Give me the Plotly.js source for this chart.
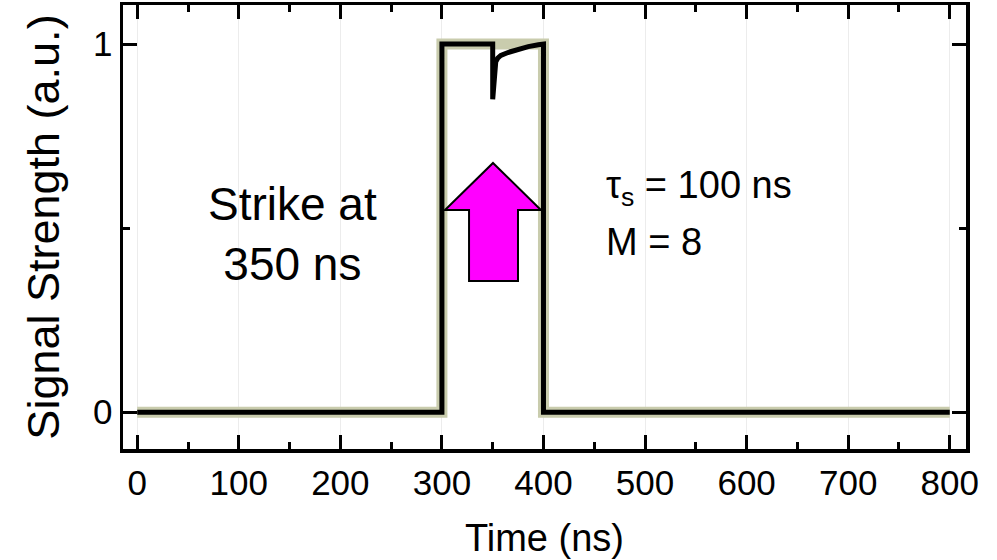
<!DOCTYPE html>
<html>
<head>
<meta charset="utf-8">
<script src="https://cdn.plot.ly/plotly-3.0.1.min.js"></script>
<style>
  html, body { margin: 0; padding: 0; background: #fff; }
  #chart { width: 997px; height: 560px; }
</style>
</head>
<body>
<div id="chart"></div>
<script>
// Ideal rectangular pulse (reference signal)
const idealTime = [0, 300, 300, 400, 400, 800];
const idealSignal = [0, 0, 1, 1, 0, 0];

// Received signal with the strike at 350 ns and its recovery
const signalTime = [0, 300, 300, 350, 350, 351, 352, 353, 355, 358, 365, 375, 385, 395, 400, 400, 800];
const signalValue = [0, 0, 1, 1, 0.85, 0.90, 0.935, 0.952, 0.962, 0.969, 0.977, 0.986, 0.993, 0.998, 1.0, 0, 0];

const xTicks = [0, 100, 200, 300, 400, 500, 600, 700, 800];
const yTicks = [0, 1];

const FONT = 'Liberation Sans, Arial, sans-serif';

const traces = [
  {
    x: idealTime, y: idealSignal, mode: 'lines', type: 'scatter',
    line: { color: '#c9ccad', width: 11 }, hoverinfo: 'skip', showlegend: false
  },
  {
    x: signalTime, y: signalValue, mode: 'lines', type: 'scatter',
    line: { color: '#000000', width: 5 }, showlegend: false
  }
];

const axisCommon = {
  showline: true, linecolor: '#000', linewidth: 3.5, mirror: 'ticks',
  ticks: 'inside', ticklen: 14, tickwidth: 3, tickcolor: '#000',
  tickfont: { family: FONT, size: 35, color: '#000' },
  zeroline: false
};

const layout = {
  width: 997, height: 560,
  margin: { l: 123, r: 31, t: 5, b: 111 },
  paper_bgcolor: '#fff', plot_bgcolor: '#fff',
  font: { family: FONT, color: '#000' },
  xaxis: Object.assign({}, axisCommon, {
    range: [-14, 816],
    tickvals: xTicks, ticktext: xTicks.map(String),
    showgrid: true, gridcolor: '#ececec', gridwidth: 1,
    minor: { ticks: 'inside', ticklen: 7, tickwidth: 3, tickcolor: '#000', dtick: 50, tick0: 0, showgrid: false },
    title: { text: 'Time (ns)', font: { family: FONT, size: 38, color: '#000' }, standoff: 25 }
  }),
  yaxis: Object.assign({}, axisCommon, {
    range: [-0.1, 1.106],
    tickvals: yTicks, ticktext: yTicks.map(String),
    showgrid: false,
    minor: { ticks: 'inside', ticklen: 7, tickwidth: 3, tickcolor: '#000', dtick: 0.5, tick0: 0, showgrid: false },
    title: { text: 'Signal Strength (a.u.)', font: { family: FONT, size: 45, color: '#000' }, standoff: 20 }
  }),
  shapes: [
    {
      // upward arrow marking the strike
      type: 'path', xref: 'x', yref: 'y',
      path: 'M 350.3,0.677 L 397.5,0.549 L 374.9,0.549 L 374.9,0.356 L 326.7,0.356 L 326.7,0.549 L 303,0.549 Z',
      fillcolor: '#ff00ff', line: { color: '#000', width: 2 }
    }
  ],
  annotations: [
    {
      x: 152.5, y: 0.485, xref: 'x', yref: 'y', showarrow: false,
      text: 'Strike at<br>350 ns', align: 'center',
      font: { family: FONT, size: 46, color: '#000' }
    },
    {
      x: 459.6, y: 0.609, xref: 'x', yref: 'y', showarrow: false, xanchor: 'left',
      text: 'τ<sub>s</sub> = 100 ns',
      font: { family: FONT, size: 38, color: '#000' }
    },
    {
      x: 459.6, y: 0.462, xref: 'x', yref: 'y', showarrow: false, xanchor: 'left',
      text: 'M = 8',
      font: { family: FONT, size: 38, color: '#000' }
    }
  ]
};

Plotly.newPlot('chart', traces, layout, { staticPlot: true, displayModeBar: false });
</script>
</body>
</html>
